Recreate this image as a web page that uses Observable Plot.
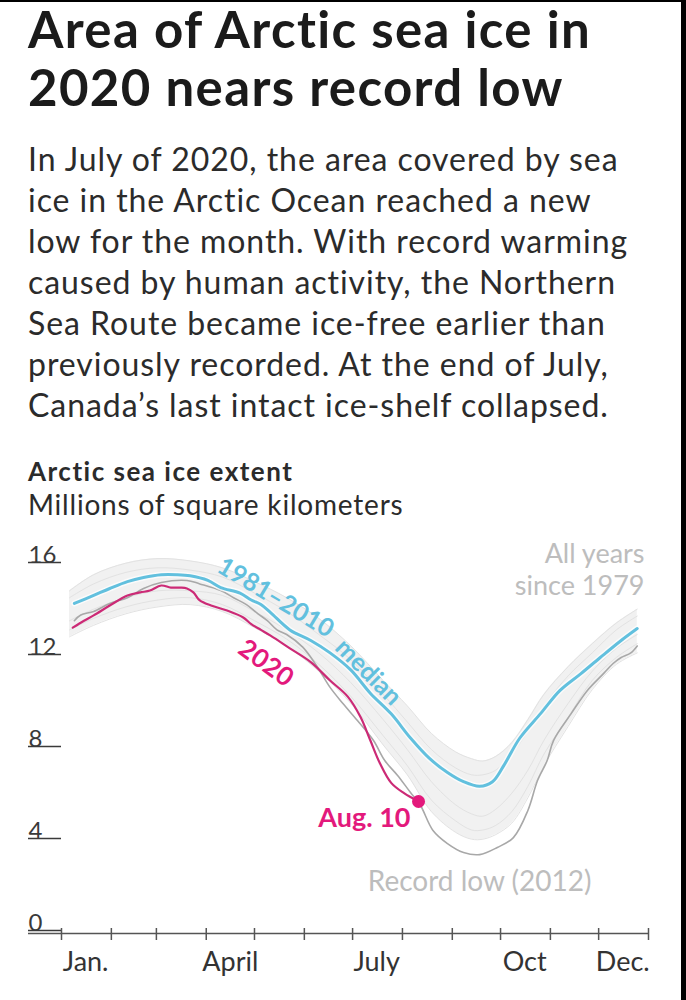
<!DOCTYPE html>
<html><head><meta charset="utf-8">
<script src="https://cdn.jsdelivr.net/npm/d3@7"></script>
<script src="https://cdn.jsdelivr.net/npm/@observablehq/plot@0.6"></script>
<style>
html,body{margin:0;padding:0;background:#fff;}
body{width:686px;height:1000px;position:relative;overflow:hidden;font-family:Lato,"Open Sans",sans-serif;color:#222;}
#title{position:absolute;left:28px;top:0px;font-weight:700;font-size:51px;line-height:58px;letter-spacing:1.35px;color:#1b1b1b;white-space:nowrap}
#body{position:absolute;left:28px;top:138px;font-size:32px;line-height:41px;color:#2b2b2b;white-space:nowrap;letter-spacing:0.95px}
#head{position:absolute;left:28px;top:456px;font-weight:700;font-size:26px;line-height:30px;color:#2b2b2b;white-space:nowrap;letter-spacing:1.5px}
#sub{position:absolute;left:28px;top:489px;font-size:28px;line-height:30px;color:#2b2b2b;white-space:nowrap;letter-spacing:0.8px}
#chart{position:absolute;left:0;top:530px}
.edge-r{position:absolute;right:0;top:0;width:5px;height:1000px;background:#000}
.edge-t{position:absolute;left:0;top:0;width:686px;height:2px;background:#000}
</style></head>
<body>
<div id="title">Area of Arctic sea ice in<br>2020 nears record low</div>
<div id="body">In July of 2020, the area covered by sea<br>ice in the Arctic Ocean reached a new<br>low for the month. With record warming<br>caused by human activity, the Northern<br>Sea Route became ice-free earlier than<br>previously recorded. At the end of July,<br>Canada’s last intact ice-shelf collapsed.</div>
<div id="head">Arctic sea ice extent</div>
<div id="sub">Millions of square kilometers</div>
<div id="chart"></div>
<div class="edge-r"></div><div class="edge-t"></div>
<script>
// ---- data (day of year, millions of km²) ----
const medianDays = [8,20,30,41,51,62,72,80,91,99,111,118,124,130,142,155,167,180,192,205,217,229,240,250,260,268,275,285,298,310,323,335,348,358];
const medianValues = [14.35,14.7,15.0,15.3,15.48,15.6,15.6,15.55,15.35,15.04,14.8,14.5,14.3,13.95,13.2,12.74,12.2,11.45,10.45,9.55,8.5,7.6,7.0,6.6,6.4,6.6,7.3,8.5,9.57,10.57,11.3,12.0,12.74,13.26];

const days2020 = [7,14,20,30,41,49,55,62,68,74,78,82,86,93,103,113,118,124,130,142,155,167,178,186,192,198,205,213,222];
const values2020 = [13.3,13.6,13.83,14.26,14.7,14.83,14.91,15.13,15.04,15.04,15.0,14.83,14.48,14.26,14.04,13.74,13.45,13.2,12.95,12.4,11.8,11.0,10.3,9.4,8.4,7.4,6.55,6.1,5.74];

const days2012 = [8,12,20,30,41,51,62,78,86,99,107,115,122,128,134,140,150,159,167,175,184,194,201,209,217,223,231,240,250,260,271,281,290,296,302,306,317,327,337,343,348,354,358];
const values2012 = [13.6,13.85,14.0,14.35,14.6,15.0,15.26,15.35,15.2,14.91,14.6,14.3,13.91,13.6,13.2,13.0,12.45,11.6,10.7,10.0,9.26,8.39,7.52,6.87,6.13,5.6,4.48,3.91,3.52,3.43,3.74,4.17,5.35,6.65,7.52,8.4,9.57,10.57,11.3,11.74,12.0,12.2,12.5];

// envelope of all years since 1979 and a few representative years
const bandDays  = [5,20,40,60,80,100,120,140,160,180,200,215,230,245,255,262,270,280,290,300,315,330,345,358];
const bandUpper = [14.9,15.6,16.1,16.3,16.2,15.9,15.3,14.6,13.7,12.5,11.0,9.9,8.7,7.9,7.6,7.5,7.7,8.3,9.3,10.4,11.6,12.6,13.5,14.1];
const bandLower = [12.9,13.4,13.9,14.2,14.3,14.0,13.3,12.5,11.4,10.0,8.2,6.9,5.3,4.4,4.1,4.1,4.3,4.8,5.9,7.3,9.0,10.6,11.7,12.2];
const yearA = [14.6,15.2,15.7,15.9,15.8,15.5,14.8,14.0,13.0,11.9,10.4,9.2,8.0,7.2,6.9,6.9,7.1,7.8,8.8,9.9,11.2,12.2,13.2,13.8];
const yearB = [13.6,14.1,14.6,14.9,14.9,14.7,14.0,13.2,12.2,10.9,9.3,8.0,6.6,5.6,5.2,5.1,5.4,6.1,7.1,8.4,10.0,11.4,12.4,13.0];
const yearC = [13.2,13.7,14.2,14.5,14.6,14.3,13.6,12.8,11.7,10.3,8.6,7.3,5.8,4.9,4.5,4.5,4.7,5.3,6.4,7.8,9.4,11.0,12.0,12.6];

const monthStarts = [0,31,59,90,120,151,181,212,243,273,304,334,365];
const monthLabels = ["Jan.","April","July","Oct","Dec."];
const monthLabelDays = [15,105,196,288,349];
const yTicks = [0,4,8,12,16];

const allYearsLabel = "All years\nsince 1979";
const medianLabel1 = "1981–2010";
const medianLabel2 = "median";
const label2020 = "2020";
const lastLabel = "Aug. 10";
const recordLabel = "Record low (2012)";

// ---- tables ----
const median = medianDays.map((d,i)=>({day:d, value:medianValues[i]}));
const s2020 = days2020.map((d,i)=>({day:d, value:values2020[i]}));
const s2012 = days2012.map((d,i)=>({day:d, value:values2012[i]}));
const band = bandDays.map((d,i)=>({day:d, lower:bandLower[i], upper:bandUpper[i]}));
const others = [];
[["A",yearA],["B",yearB],["C",yearC],["U",bandUpper],["L",bandLower]].forEach(([k,arr])=>arr.forEach((v,i)=>others.push({year:k, day:bandDays[i], value:v})));
const last2020 = s2020[s2020.length-1];
const min2012 = s2012.reduce((a,b)=>b.value<a.value?b:a);
const medAt = d => median.find(p=>p.day===d);
const s2020At = d => s2020.find(p=>p.day===d);

const BLUE="#62c0de", MAG="#cc2a76", PINK="#e3197c";

const chart = Plot.plot({
  width: 686, height: 470,
  marginLeft: 61, marginRight: 38, marginTop: 35, marginBottom: 67,
  x: {domain:[0,365], axis:null},
  y: {domain:[0,16], axis:null},
  style: {fontFamily:"Lato, sans-serif", background:"transparent"},
  marks: [
    Plot.areaY(band, {x:"day", y1:"lower", y2:"upper", fill:"#f1f1f1", curve:"catmull-rom"}),
    Plot.lineY(others, {x:"day", y:"value", z:"year", stroke:"#e2e2e2", strokeWidth:1, curve:"catmull-rom"}),
    Plot.lineY(s2012, {x:"day", y:"value", stroke:"#a8a8a8", strokeWidth:1.6, curve:"catmull-rom"}),
    Plot.lineY(median, {x:"day", y:"value", stroke:"#ffffff", strokeWidth:6, strokeOpacity:0.7, curve:"catmull-rom"}),
    Plot.lineY(median, {x:"day", y:"value", stroke:BLUE, strokeWidth:3, curve:"catmull-rom"}),
    Plot.lineY(s2020, {x:"day", y:"value", stroke:MAG, strokeWidth:2.2, curve:"catmull-rom"}),
    Plot.dot([last2020], {x:"day", y:"value", r:6.5, fill:PINK}),
    // axes
    Plot.axisY({ticks:yTicks, tickSize:33, tickPadding:0, textAnchor:"start", lineAnchor:"bottom", dy:-3, fontSize:24, color:"#3a3a3a", strokeWidth:1.3, label:null}),
    Plot.ruleY([0], {insetLeft:-33, stroke:"#555", strokeWidth:1.5}),
    Plot.ruleX(monthStarts, {x:d=>d, y1:0, y2:0, insetTop:7, insetBottom:5, stroke:"#555", strokeWidth:1.5}),
    Plot.text(monthLabels, {x:(d,i)=>monthLabelDays[i], y:0, text:d=>d, dy:29, fontSize:27, fill:"#333"}),
    // annotations
    Plot.text([allYearsLabel], {frameAnchor:"top-right", text:d=>d, textAnchor:"end", lineAnchor:"top", dx:-4, dy:-26, lineHeight:1.2, fontSize:27, fill:"#bdbdbd"}),
    Plot.text([medAt(130)], {x:"day", y:"value", text:()=>medianLabel1, rotate:31, dx:5, dy:-15, fontSize:25, fontWeight:700, fill:BLUE}),
    Plot.text([medAt(192)], {x:"day", y:"value", text:()=>medianLabel2, rotate:45, dx:-2, dy:-21, fontSize:25, fontWeight:700, fill:BLUE}),
    Plot.text([s2020At(142)], {x:"day", y:"value", text:()=>label2020, rotate:36, dx:-24, dy:15, fontSize:26, fontWeight:700, fill:PINK}),
    Plot.text([last2020], {x:"day", y:"value", text:()=>lastLabel, textAnchor:"end", dx:-8, dy:17, fontSize:27, fontWeight:700, fill:PINK}),
    Plot.text([min2012], {x:"day", y:"value", text:()=>recordLabel, dy:27, fontSize:28, fill:"#bdbdbd"})
  ]
});
document.getElementById("chart").appendChild(chart);
</script>
</body></html>
